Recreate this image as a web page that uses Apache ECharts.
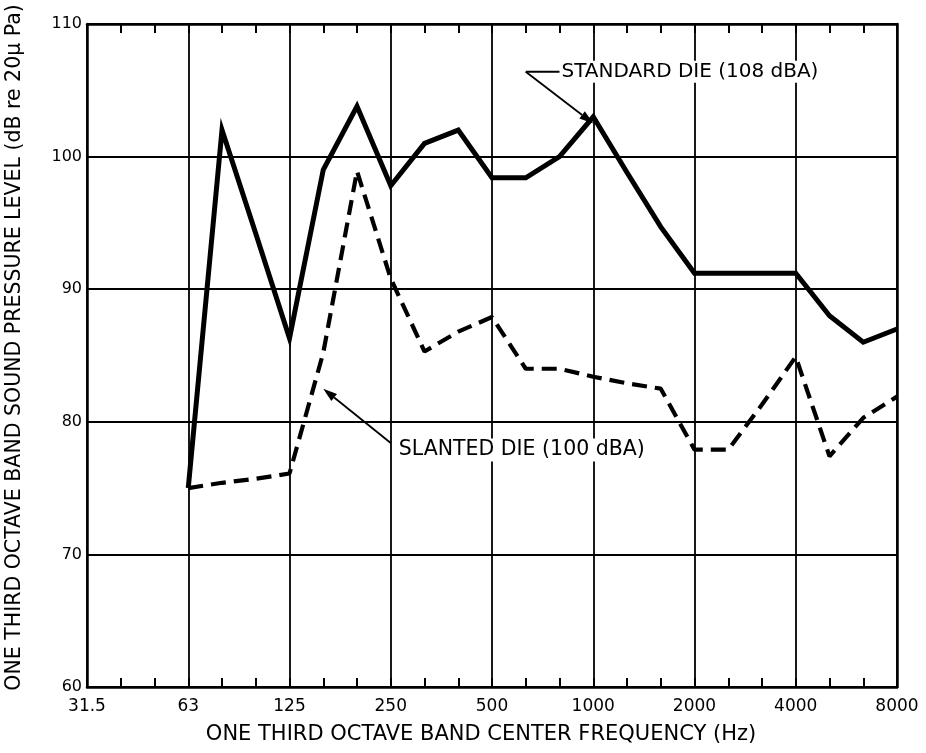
<!DOCTYPE html>
<html>
<head>
<meta charset="utf-8">
<script src="https://cdn.jsdelivr.net/npm/echarts@6/dist/echarts.min.js"></script>
<style>
html,body{margin:0;padding:0;background:#fff;}
#chart{width:926px;height:753px;}
</style>
</head>
<body>
<div id="chart"></div>
<script>
// One-third octave band centre frequencies (Hz)
var bands = ['31.5','40','50','63','80','100','125','160','200','250','315','400','500','630','800','1000','1250','1600','2000','2500','3150','4000','5000','6300','8000'];
// Standard die (108 dBA), dB re 20 µPa
var standardDie = [null,null,null,75,102,94.2,86.3,99,103.8,97.8,101,102,98.4,98.4,100,103,98.8,94.7,91.2,91.2,91.2,91.2,88,86,87];
// Slanted die (100 dBA), dB re 20 µPa
var slantedDie  = [null,null,null,75,75.4,75.7,76.1,85.2,98.9,90.8,85.3,86.8,87.9,84,84,83.4,82.9,82.5,77.9,77.9,81.3,84.9,77.4,80.3,81.9];
var yTicks = [60,70,80,90,100,110];
var xTitle = 'ONE THIRD OCTAVE BAND CENTER FREQUENCY (Hz)';
var yTitle = 'ONE THIRD OCTAVE BAND SOUND PRESSURE LEVEL (dB re 20\u03BC Pa)';
var standardLabel = 'STANDARD DIE (108 dBA)';
var slantedLabel = 'SLANTED DIE (100 dBA)';

var FONT = "'DejaVu Sans',sans-serif";
var chart = echarts.init(document.getElementById('chart'), null, {renderer:'canvas'});
var isMajor = function(i){ return i % 3 === 0; };

chart.setOption({
  backgroundColor:'#fff',
  animation:false,
  grid:{left:87, right:29, top:24, bottom:66, containLabel:false, outerBoundsMode:'none'},
  xAxis:[{
    type:'category', data:bands, boundaryGap:false, position:'bottom',
    axisLine:{show:true, lineStyle:{color:'#000', width:2.5}},
    axisTick:{show:true, inside:true, length:9, interval:0, lineStyle:{color:'#000', width:2}},
    axisLabel:{interval:function(i){return isMajor(i);}, color:'#000', fontFamily:FONT, fontSize:17, margin:11},
    splitLine:{show:true, interval:function(i){return isMajor(i);}, lineStyle:{color:'#000', width:1.8}},
    name:xTitle, nameLocation:'middle', nameGap:37,
    nameTextStyle:{color:'#000', fontFamily:FONT, fontSize:21, padding:[0,22,0,0]}
  },{
    type:'category', data:bands, boundaryGap:false, position:'top',
    axisLine:{show:true, lineStyle:{color:'#000', width:2.5}},
    axisTick:{show:true, inside:true, length:9, interval:0, lineStyle:{color:'#000', width:2}},
    axisLabel:{show:false}, splitLine:{show:false}
  }],
  yAxis:[{
    type:'value', min:60, max:110, interval:10, position:'left',
    axisLine:{show:true, lineStyle:{color:'#000', width:2.5}},
    axisTick:{show:false},
    axisLabel:{color:'#000', fontFamily:FONT, fontSize:16, margin:5,
      formatter:function(v){ return yTicks.indexOf(v) >= 0 ? String(v) : ''; }},
    splitLine:{show:true, lineStyle:{color:'#000', width:1.8}},
    name:yTitle, nameLocation:'middle', nameGap:62, nameRotate:90,
    nameTextStyle:{color:'#000', fontFamily:FONT, fontSize:20.5, padding:[0,0,0,16]}
  },{
    type:'value', min:60, max:110, interval:10, position:'right',
    axisLine:{show:true, lineStyle:{color:'#000', width:2.5}},
    axisTick:{show:false}, axisLabel:{show:false}, splitLine:{show:false}
  }],
  series:[{
    name:standardLabel, type:'line', data:standardDie, xAxisIndex:0, yAxisIndex:0,
    showSymbol:false, symbol:'none',
    lineStyle:{color:'#000', width:5, join:'miter'}
  },{
    name:slantedLabel, type:'line', data:slantedDie, xAxisIndex:0, yAxisIndex:0,
    showSymbol:false, symbol:'none',
    lineStyle:{color:'#000', width:4.2, type:[15,8], cap:'butt'}
  }]
});

function px(i, v){ return chart.convertToPixel({xAxisIndex:0, yAxisIndex:0}, [i, v]); }
function arrow(from, to){
  var dx = to[0]-from[0], dy = to[1]-from[1], L = Math.sqrt(dx*dx+dy*dy);
  var ux = dx/L, uy = dy/L, hl = 14, hw = 4.5;
  var bx = to[0]-ux*hl, by = to[1]-uy*hl;
  return [
    {type:'line', shape:{x1:from[0], y1:from[1], x2:bx, y2:by}, style:{stroke:'#000', lineWidth:1.8}},
    {type:'polygon', shape:{points:[[to[0],to[1]],[bx-uy*hw,by+ux*hw],[bx+uy*hw,by-ux*hw]]}, style:{fill:'#000'}}
  ];
}
var g = [];
// Standard die annotation
var sTip = px(14.8, 102.5), sFrom = px(13.4, 106.4), sDashEnd = px(13.93, 106.4);
g = g.concat(arrow(sFrom, sTip));
g.push({type:'line', shape:{x1:sFrom[0], y1:sFrom[1], x2:sDashEnd[0], y2:sDashEnd[1]}, style:{stroke:'#000', lineWidth:1.8}});
g.push({type:'text', x:sDashEnd[0]+1, y:sDashEnd[1], z:10, style:{text:standardLabel, fill:'#000', font:'20px '+FONT, textVerticalAlign:'middle', textAlign:'left', backgroundColor:'#fff', padding:[1,1]}});
// Slanted die annotation
var lTip = px(6.85, 82.5), lFrom = px(9.0, 78.4);
g = g.concat(arrow(lFrom, lTip));
g.push({type:'text', x:lFrom[0]+7, y:lFrom[1]+7, z:10, style:{text:slantedLabel, fill:'#000', font:'20.5px '+FONT, textVerticalAlign:'middle', textAlign:'left', backgroundColor:'#fff', padding:[1,1]}});
chart.setOption({graphic:g});
</script>
</body>
</html>
